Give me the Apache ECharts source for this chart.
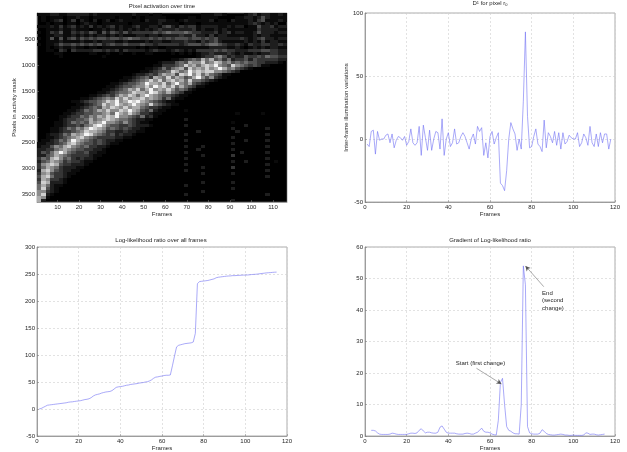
<!DOCTYPE html>
<html><head><meta charset="utf-8">
<style>html,body{margin:0;padding:0;background:#fff}#main{width:627px;height:452px;filter:blur(0.4px)}</style>
<script src="https://cdn.jsdelivr.net/npm/echarts@6/dist/echarts.min.js"></script>
</head><body><div id="main"></div>
<script>
// Brightness per block of 2 frames (columns) by pixel band (rows), 0-9.
const activationRows = [
"1112211222 2212111111 1121110110 0000000011 1221000012 31221121",
"0101110112 1101111101 1101011111 0000011011 1100001122 12421111",
"0101230130 2102012012 1111021122 1101211111 2011021112 13411121",
"0010110110 1211011111 1011111121 1110111011 1111111112 32121200",
"1112131231 2131212312 1123112213 4213233122 2211212201 14223122",
"0011121121 1101121212 1212121232 2232223121 1212111111 13222211",
"1013241132 3243142432 4233333434 5444543322 2312312211 24222122",
"0011221121 2121221212 1112212212 2223224221 3122111111 21221111",
"1014141342 4343443443 4544334343 4344434434 3422222321 23422122",
"0011121111 2112122211 2111121221 1222322132 3421111121 21312211",
"1011243343 4343423433 4333433233 3332344434 5543223213 22332232",
"0010121121 1011011111 1110101100 1111111111 2222112101 21212211",
"0011032032 2223323231 3222212322 1232121333 3434332223 33443322",
"0000110000 0011001001 0010011000 0101010122 3222321211 21223322",
"0000010000 0000010000 0000000000 0000000123 3564232243 34354433",
"0000000000 0000000000 0000000000 0112345475 7453523342 43333322",
"0000000000 0000000000 0000000012 2245476685 6875645454 43322210",
"0000000000 0000000000 0000000113 3345867578 7965486543 43110000",
"0000000000 0000000000 0000011235 3567486768 6797564321 00000000",
"0000000000 0000000000 0000112344 5875697878 8665432000 00000000",
"0000000000 0000000000 0012234357 6748796857 5431100000 00000000",
"0000000000 0000000000 1123453765 8576457964 6321000000 00000000",
"0000000000 0000000001 1234568685 7867585543 2100000000 00000000",
"0000000000 0000000112 3445697768 5796574321 0000000000 00000000",
"0000000000 0000001123 4456686978 6857543110 0000000000 00000000",
"0000000000 0000011234 5768579676 8645421000 0000000000 00000000",
"0000000000 0000112345 5687769865 7543110000 0000000000 00000000",
"0000000000 0011234357 6875797654 4321100000 0000000000 00000000",
"0000000000 1123456586 8677867653 5211000000 0000000000 00000000",
"0000000011 2344568796 7989765432 1100000000 0000000000 00000000",
"0000000001 1234586797 6797658543 2110000000 0000000000 00000000",
"0000000011 2345476876 8677543321 1000000000 0000000000 00000000",
"0000000112 3545768668 7976435211 0000100000 0000000000 00000000",
"0000001123 3445567597 6865332110 0000000000 0000001000 00100000",
"0000011233 5465768796 6543523100 0000000000 0000000000 00000000",
"0000012334 4575678765 5432211000 0000200000 0000000000 00000000",
"0000112354 5476796654 6432110000 0000000000 0000010000 00000000",
"0000112334 3568975443 3432221000 0000200000 0000000020 00000000",
"0001123546 5798764543 4322100000 0000000000 0000020000 00020000",
"0001123345 6877653322 3221100000 0000000200 0000002000 00000000",
"0012235476 7986543423 2210000000 0000200000 0000000000 00020000",
"0011234567 8654333322 1100000000 0000000000 0000020000 00000000",
"0112354697 6543432211 0000000000 0000200000 0000000020 00020000",
"1122345786 5443432110 0000000000 0000000000 0000020000 00000000",
"1224657865 4533221000 0000000000 0000200020 0000000000 00020000",
"2233567654 4332210000 0000000000 0000000200 0000020000 00000000",
"2435797543 3422110000 0000000000 0000200000 0000000200 00020000",
"2245765433 3321100000 0000000000 0000000020 0000030000 00000000",
"3547864532 3221000000 0000000000 0000200000 0000000000 00020000",
"2457653433 2110000000 0000000000 0000000000 0000020020 00000100",
"3678743322 2100000000 0000000000 0000200000 0000000000 00020000",
"3576532221 1000000000 0000000000 0000000020 0000030000 00000000",
"2786432211 0000000000 0000000000 0000200000 0000000000 00020000",
"3674332110 0000000000 0000000000 0000000020 0000020000 00000000",
"4785332100 0000000000 0000000000 0000000000 0000000000 00020000",
"3763321000 0000000000 0000000000 0000000000 0000000000 00000000",
"4872221000 0000000000 0000000000 0000000020 0000020000 00000000",
"5752110000 0000000000 0000000000 0000200000 0000000000 00000000",
"5842100000 0000000000 0000000000 0000000000 0000020000 00000000",
"6632100000 0000000000 0000000000 0000000020 0000000000 00000000",
"6821000000 0000000000 0000000000 0000200000 0000000000 00020000",
"7610000000 0000000000 0000000000 0000000000 0000000000 00000000",
"7200000000 0000000000 0000000000 0000000000 0000020000 00000000"
];
const framesPerBlock = 2;
const firstFrame = 0.5;
const lastFrame = 116.5;
const pixelCount = 3640;

const frameTicks = [10,20,30,40,50,60,70,80,90,100,110];
const pixelTicks = [500,1000,1500,2000,2500,3000,3500];

const d1Values = [-4,-6,6,7,-12,6,-1,0,0,3,4,-3,4,-7,-1,2,1,-1,2,-5,-2,8,-3,-5,-3,10,-13,11,1,-9,7,-9,0,6,5,-8,16,-13,0,5,-6,-3,8,-4,-3,2,5,2,-3,-8,0,4,-4,10,6,9,-13,-3,-15,2,6,-4,1,5,-35,-37,-41,-25,0,13,8,4,-9,0,-8,30,85,18,-7,-6,2,8,-4,-6,-10,15,-7,5,2,-3,6,-5,5,-8,5,-4,-2,3,1,0,0,5,-6,-3,4,1,-5,10,-3,-6,4,-6,5,-3,4,4,-8,0];
const llrValues = [0,1,3,5,7,7.5,8,8.5,9,9.5,10,10.5,11,11.5,12.5,13,13.3,14,14.5,15,15.5,16.5,17.5,18,19,21,24,26,27,28,29.5,30.5,31.5,32,32.5,34,37,40,41,41.5,42,43,44,44.5,45.5,46,46.5,47,48,48.5,49,50,50.5,52,54,57,59,59.5,60.5,61,62,62.5,62.5,63,80,98,115,118,119,120,121,121.5,122,122.5,124,140,232,236,236.5,237,237.5,238,239,240,241,243,244,244.5,245,245.5,246,246.3,246.5,247,247,247.3,247.5,247.7,248,248,248.2,248.5,249,249.3,249.5,250,250.5,251,251.5,252,252.3,252.6,253,253.3,253.5];
const gradFirstFrame = 3;
const gradValues = [1.8,1.8,1.6,1,0.6,0.5,0.5,0.5,0.5,0.6,0.9,0.8,0.6,0.5,0.5,0.5,0.5,0.5,0.7,0.9,0.9,0.8,1,1.8,2.3,1.6,1,1.2,1.2,1,0.9,0.9,1.2,2.8,3.2,2.2,1.2,0.9,0.9,0.9,0.9,0.7,0.6,0.6,0.6,0.8,0.9,0.8,0.6,0.6,0.9,1.2,1.8,2.5,1.5,1.2,1.2,1,0.6,0.4,0.3,5,17,18.3,10,3,1.8,1.5,1,0.7,0.7,0.6,10,54,48,3,1,0.7,0.6,0.6,0.6,0.9,2,1.5,0.8,0.5,0.4,0.3,0.3,0.4,0.5,0.6,0.5,0.3,0.3,0.2,0.2,0.3,0.2,0.2,0.2,0.2,0.3,1,0.9,0.5,0.6,0.6,0.4,0.3,0.4,0.5,0.6];

const startArrow = [[53.5,21.5],[65.5,16.5]];
const endArrow = [[85.8,47.4],[77,54]];
const startText = {at:[43.6,23], text:'Start (first change)'};
const endText = {at:[85,43], text:'End\n(second\nchange)'};

const font = 'Liberation Sans';
const textColor = '#262626';
const blue = '#7070f4';
const panels = [
  {left:37, top:13},{left:365, top:13},{left:37, top:247},{left:365, top:247}
];
const seq = (values, first) => values.map((v,i)=>[first+i,v]);

const cellData = [];
activationRows.forEach((row,r)=>{
  row.replace(/ /g,'').split('').forEach((ch,c)=>{
    if (ch !== '0') cellData.push([firstFrame+c*framesPerBlock, r*pixelCount/activationRows.length, +ch]);
  });
});
const rowSpan = pixelCount/activationRows.length;

const labelBase = {color:textColor,fontSize:6,fontFamily:font,margin:2};
const titleStyle = {fontSize:6,fontWeight:'normal',color:textColor,fontFamily:font};
function valueAxis(extra){
  return Object.assign({type:'value',
    axisLine:{show:true,onZero:false,lineStyle:{color:'#777',width:0.6}},
    axisTick:{show:true,inside:true,length:2,lineStyle:{color:'#777',width:0.5}},
    axisLabel:Object.assign({},labelBase,{formatter:v=>String(v)}),
    splitLine:{show:true,lineStyle:{type:[2,2],color:'#cfcfcf',width:0.6}},
    nameLocation:'middle',
    nameTextStyle:{color:textColor,fontSize:6,fontFamily:font}
  },extra);
}
function lineSeries(xi,data,extra){
  return Object.assign({type:'line',xAxisIndex:xi,yAxisIndex:xi,data,showSymbol:false,symbol:'none',
    lineStyle:{color:blue,width:0.6},animation:false,silent:true},extra||{});
}
const option = {
  animation:false,
  backgroundColor:'#fff',
  title:[
    {text:'Pixel activation over time',left:162,top:3.5,padding:0,textAlign:'center',textStyle:titleStyle},
    {text:'D{sup|1} for pixel r{sub|0}',left:490,top:0.5,padding:0,textAlign:'center',textStyle:Object.assign({},titleStyle,{
      rich:{sup:{fontSize:4,verticalAlign:'top',lineHeight:6,color:textColor,fontFamily:font},sub:{fontSize:4,verticalAlign:'bottom',lineHeight:6,color:textColor,fontFamily:font}}})},
    {text:'Log-likelihood ratio over all frames',left:161,top:237.5,padding:0,textAlign:'center',textStyle:titleStyle},
    {text:'Gradient of Log-likelihood ratio',left:490,top:237.5,padding:0,textAlign:'center',textStyle:titleStyle}
  ],
  grid:panels.map((p,i)=>({left:p.left,top:p.top,width:250,height:i<2?189:190,containLabel:false,
    show:true,borderColor:'#777',borderWidth:0.6,backgroundColor:i===0?'#000':'transparent'})),
  xAxis:[
    valueAxis({gridIndex:0,min:firstFrame,max:lastFrame,name:'Frames',nameGap:9,splitLine:{show:false},
      axisTick:{show:true,inside:true,length:2,customValues:frameTicks,lineStyle:{color:'#888',width:0.5}},
      axisLabel:Object.assign({},labelBase,{customValues:frameTicks})}),
    valueAxis({gridIndex:1,min:0,max:120,interval:20,name:'Frames',nameGap:9}),
    valueAxis({gridIndex:2,min:0,max:120,interval:20,name:'Frames',nameGap:9}),
    valueAxis({gridIndex:3,min:0,max:120,interval:20,name:'Frames',nameGap:9})
  ],
  yAxis:[
    valueAxis({gridIndex:0,min:0,max:pixelCount,inverse:true,name:'Pixels in activity mask',nameGap:16,splitLine:{show:false},
      axisTick:{show:true,inside:true,length:2,customValues:pixelTicks,lineStyle:{color:'#888',width:0.5}},
      axisLabel:Object.assign({},labelBase,{customValues:pixelTicks,formatter:v=>String(v)})}),
    valueAxis({gridIndex:1,min:-50,max:100,interval:50,name:'Inter-frame illumination variations',nameGap:13}),
    valueAxis({gridIndex:2,min:-50,max:300,interval:50}),
    valueAxis({gridIndex:3,min:0,max:60,interval:10})
  ],
  series:[
    {type:'custom',xAxisIndex:0,yAxisIndex:0,data:cellData,silent:true,animation:false,progressive:0,
     encode:{x:0,y:1},clip:true,
     renderItem(params,api){
       const x=api.value(0),y=api.value(1),v=api.value(2);
       const a=api.coord([x,y]),b=api.coord([x+framesPerBlock,y+rowSpan]);
       const g=Math.round(Math.pow(v/9,1.4)*245);
       return {type:'rect',shape:{x:Math.round(a[0]),y:Math.round(a[1]),width:Math.round(b[0])-Math.round(a[0]),height:Math.round(b[1])-Math.round(a[1])},
         style:{fill:`rgb(${g},${g},${g})`}};
     }},
    lineSeries(1,seq(d1Values,1)),
    lineSeries(2,seq(llrValues,1)),
    lineSeries(3,seq(gradValues,gradFirstFrame),{
      markLine:{silent:true,animation:false,symbol:['none','arrow'],symbolSize:[4,5],precision:3,
        lineStyle:{color:'#555',width:0.5,type:'solid'},label:{show:false},
        data:[[{coord:startArrow[0]},{coord:startArrow[1]}],[{coord:endArrow[0]},{coord:endArrow[1]}]]},
      markPoint:{silent:true,animation:false,symbol:'circle',symbolSize:0,
        label:{show:true,position:'right',distance:0,color:textColor,fontSize:6,fontFamily:font,lineHeight:7.7,align:'left',formatter:p=>p.name},
        data:[{name:startText.text,coord:startText.at},{name:endText.text,coord:endText.at}]}
    })
  ]
};
echarts.init(document.getElementById('main'),null,{renderer:'canvas'}).setOption(option);
</script></body></html>
